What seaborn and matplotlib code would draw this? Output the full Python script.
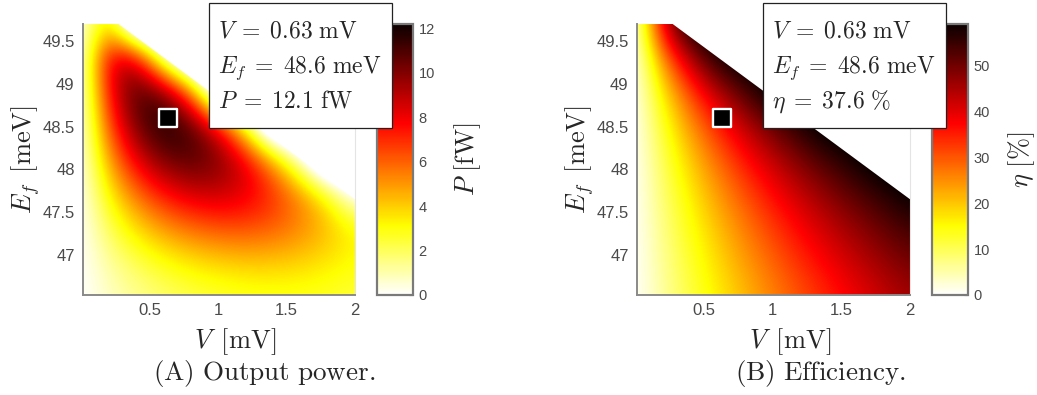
import numpy as np
import matplotlib
matplotlib.use("Agg")
import matplotlib.pyplot as plt
from matplotlib.patches import Polygon, Rectangle
import seaborn as sns

# ---------------------------------------------------------------------------
# Sampled maps over bias voltage V (columns) and Fermi energy E_f (rows)
# ---------------------------------------------------------------------------
bias_v = [0.0, 0.2, 0.4, 0.6, 0.8, 1.0, 1.2, 1.4, 1.6, 1.8, 2.0]          # mV
fermi_e = [46.5, 46.9, 47.3, 47.7, 48.1, 48.5, 48.9, 49.3, 49.7]          # meV

# Output power P (fW); samples past the stall edge continue below zero and
# are hidden by the edge clip.
power_fw = [
    [0.0, 0.68, 1.26, 1.74, 2.13, 2.41, 2.60, 2.69, 2.68, 2.58, 2.38],
    [0.0, 1.12, 2.06, 2.82, 3.38, 3.77, 3.97, 3.98, 3.81, 3.46, 3.00],
    [0.0, 2.00, 3.62, 4.86, 5.72, 6.19, 6.29, 6.00, 5.33, 4.40, 3.30],
    [0.0, 3.19, 5.65, 7.39, 8.41, 8.70, 8.26, 7.11, 5.40, 3.20, -0.3],
    [0.0, 4.70, 8.11, 10.16, 10.90, 10.30, 8.37, 5.12, 0.80, -4.0, -4.0],
    [0.0, 6.32, 10.30, 12.10, 11.25, 8.20, 2.90, -4.0, -4.0, -4.0, -4.0],
    [0.0, 7.68, 11.20, 10.66, 5.97, -2.8, -4.0, -4.0, -4.0, -4.0, -4.0],
    [0.0, 8.64, 8.85, 0.80, -4.0, -4.0, -4.0, -4.0, -4.0, -4.0, -4.0],
    [0.0, 4.20, -4.0, -4.0, -4.0, -4.0, -4.0, -4.0, -4.0, -4.0, -4.0],
]

# Efficiency eta (%); samples past the stall edge are hidden by the edge clip.
efficiency_pct = [
    [0.0, 5.62, 11.01, 16.16, 21.05, 25.76, 30.17, 34.35, 38.34, 42.03, 45.50],
    [0.0, 6.33, 12.36, 18.08, 23.50, 28.61, 33.43, 37.94, 42.14, 46.05, 49.64],
    [0.0, 7.22, 14.04, 20.47, 26.50, 32.13, 37.36, 42.20, 46.63, 50.67, 54.30],
    [0.0, 8.43, 16.31, 23.64, 30.42, 36.66, 42.35, 47.49, 52.09, 56.15, 59.65],
    [0.0, 10.13, 19.47, 27.96, 35.72, 42.62, 48.77, 54.07, 58.61, 62.0, 62.0],
    [0.0, 12.67, 24.09, 34.22, 43.04, 50.58, 56.86, 61.84, 62.0, 62.0, 62.0],
    [0.0, 16.87, 31.40, 43.57, 53.37, 60.8, 62.0, 62.0, 62.0, 62.0, 62.0],
    [0.0, 25.15, 44.61, 58.47, 62.0, 62.0, 62.0, 62.0, 62.0, 62.0, 62.0],
    [0.0, 42.0, 62.0, 62.0, 62.0, 62.0, 62.0, 62.0, 62.0, 62.0, 62.0],
]

# Stall edge of the operating region (V, E_f end points)
edge_v = [0.27, 2.0]
edge_ef = [49.70, 47.65]

# Maximum-power operating point
opt_v = 0.63
opt_ef = 48.6
opt_power = 12.1
opt_eff = 37.6

v_ticks = [0.5, 1, 1.5, 2]
v_ticklabels = ["0.5", "1", "1.5", "2"]
ef_ticks = [47, 47.5, 48, 48.5, 49, 49.5]
ef_ticklabels = ["47", "47.5", "48", "48.5", "49", "49.5"]
p_ticks = [0, 2, 4, 6, 8, 10, 12]
eta_ticks = [0, 10, 20, 30, 40, 50]

V_LIM = (0.01, 2.0)
EF_LIM = (46.53, 49.70)

# ---------------------------------------------------------------------------
sns.set_theme(style="white")
plt.rcParams["font.family"] = ["Liberation Sans", "DejaVu Sans"]
plt.rcParams["mathtext.fontset"] = "cm"

W, H = 1037, 395
fig = plt.figure(figsize=(W / 100, H / 100), dpi=100)
fig.patch.set_facecolor("white")

TICK_COLOR = "#4a4a4a"
SPINE_COLOR = "#8a8a8a"
LABEL_SIZE = 19
CAPTION_SIZE = 19.5
TEXT_SIZE = 17


def px_axes(x0, x1, y0, y1):
    return fig.add_axes([x0 / W, 1 - y1 / H, (x1 - x0) / W, (y1 - y0) / H])


def draw_map(ax, cax, field, vmax, cticks, clabel, clabel_x, ylabel_x):
    v = np.asarray(bias_v)
    e = np.asarray(fermi_e)
    dv = v[1] - v[0]
    de = e[1] - e[0]
    im = ax.imshow(np.asarray(field), origin="lower",
                   extent=[v[0] - dv / 2, v[-1] + dv / 2, e[0] - de / 2, e[-1] + de / 2],
                   aspect="auto", cmap="hot_r", vmin=0, vmax=vmax,
                   interpolation="bicubic")
    region = Polygon([(V_LIM[0], EF_LIM[0]), (V_LIM[1], EF_LIM[0]),
                      (edge_v[1], edge_ef[1]), (edge_v[0], edge_ef[0]),
                      (V_LIM[0], EF_LIM[1])],
                     closed=True, transform=ax.transData,
                     facecolor="none", edgecolor="none")
    im.set_clip_path(region)

    sns.scatterplot(x=[opt_v], y=[opt_ef], marker="s", s=175, color="black",
                    edgecolor="white", linewidth=1.7, ax=ax, legend=False,
                    zorder=5)

    ax.set_xlim(*V_LIM)
    ax.set_ylim(*EF_LIM)
    ax.set_xticks(v_ticks, v_ticklabels)
    ax.set_yticks(ef_ticks, ef_ticklabels)
    ax.tick_params(length=0, labelsize=12, labelcolor=TICK_COLOR, pad=6)
    ax.set_xlabel(r"$V\ \,\mathrm{[mV]}$", fontsize=LABEL_SIZE)
    ax.set_ylabel(r"$E_f\ \,\mathrm{[meV]}$", fontsize=LABEL_SIZE)
    ax.xaxis.set_label_coords(0.56, -0.115)
    ax.yaxis.set_label_coords(ylabel_x, 0.5)
    ax.grid(False)
    for side in ("left", "bottom"):
        ax.spines[side].set_color(SPINE_COLOR)
        ax.spines[side].set_linewidth(1.4)
    ax.spines["right"].set_color("#e4e4e4")
    ax.spines["right"].set_linewidth(0.8)
    ax.spines["top"].set_visible(False)

    cb = fig.colorbar(im, cax=cax, ticks=cticks)
    cb.outline.set_edgecolor("#7a7a7a")
    cb.outline.set_linewidth(1.6)
    cax.tick_params(direction="in", length=3, width=0.8, color="#555555",
                    labelsize=10.5, labelcolor=TICK_COLOR, pad=4)
    cb.set_label(clabel, fontsize=LABEL_SIZE)
    cax.yaxis.set_label_coords(clabel_x, 0.5)
    return im


def info_box(x0, lines):
    top, bottom, width = 3, 128, 183
    fig.add_artist(Rectangle((x0 / W, 1 - bottom / H), width / W, (bottom - top) / H,
                             transform=fig.transFigure, facecolor="white",
                             edgecolor="#222222", linewidth=0.9, zorder=10))
    for txt, base in zip(lines, (37, 72.5, 108)):
        fig.text((x0 + 9) / W, 1 - base / H, txt, fontsize=TEXT_SIZE,
                 va="baseline", ha="left", zorder=11)


axP = px_axes(83, 355, 24, 295)
caxP = px_axes(377, 413, 24, 295)
axE = px_axes(637, 910, 24, 295)
caxE = px_axes(932, 968, 24, 295)

draw_map(axP, caxP, power_fw, 12.2, p_ticks, r"$P\ \mathrm{[fW]}$", 2.1, -0.15)
draw_map(axE, caxE, efficiency_pct, 59.0, eta_ticks, r"$\eta\ \mathrm{[\%]}$", 2.05, -0.15)

info_box(209, [rf"$V\;=\;{opt_v:.2f}\ \mathrm{{mV}}$",
               rf"$E_f\;=\;{opt_ef:.1f}\ \mathrm{{meV}}$",
               rf"$P\;=\;{opt_power:.1f}\ \mathrm{{fW}}$"])
info_box(763, [rf"$V\;=\;{opt_v:.2f}\ \mathrm{{mV}}$",
               rf"$E_f\;=\;{opt_ef:.1f}\ \mathrm{{meV}}$",
               rf"$\eta\;=\;{opt_eff:.1f}\ \%$"])

fig.text(264 / W, 1 - 380 / H, r"$\mathrm{(A)\ Output\ power.}$",
         fontsize=CAPTION_SIZE, ha="center", va="baseline")
fig.text(820 / W, 1 - 380 / H, r"$\mathrm{(B)\ Efficiency.}$",
         fontsize=CAPTION_SIZE, ha="center", va="baseline")

fig.savefig("out.png", dpi=100, facecolor="white")
